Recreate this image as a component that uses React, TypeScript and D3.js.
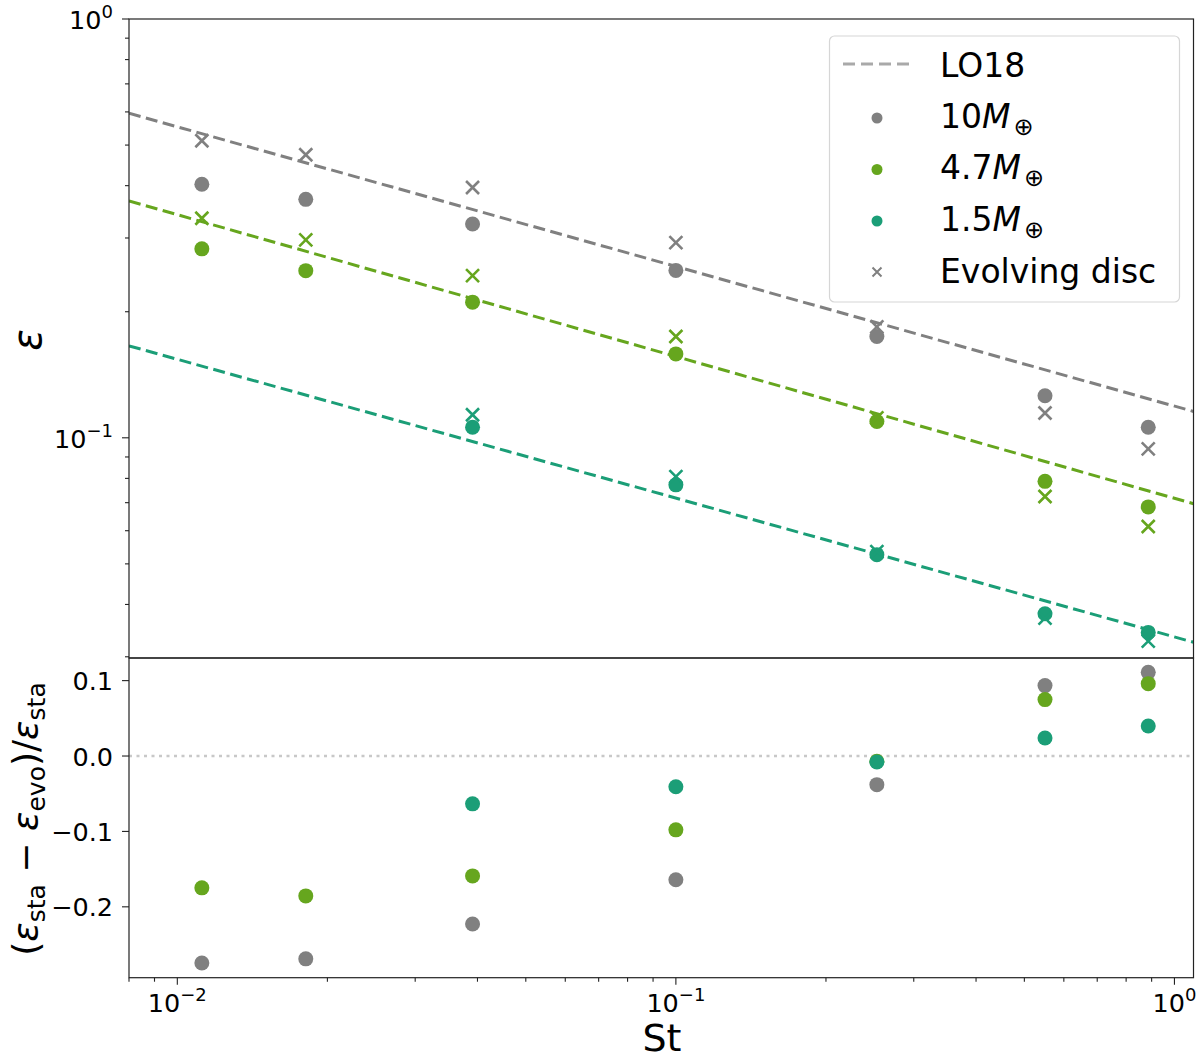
import React from 'react';
import * as d3 from 'd3';

// Stokes numbers of the runs
const stokes = [0.0112, 0.0181, 0.0391, 0.1, 0.253, 0.55, 0.886];

// epsilon for the static disc (circles) and evolving disc (crosses)
const epsStatic10 = [0.403, 0.371, 0.324, 0.251, 0.1745, 0.126, 0.106];
const epsEvolving10 = [0.512, 0.474, 0.396, 0.2925, 0.184, 0.1146, 0.0941];
const epsStatic47 = [0.2826, 0.2507, 0.2108, 0.1586, 0.1094, 0.0787, 0.0684];
const epsEvolving47 = [0.3344, 0.297, 0.244, 0.1745, 0.1116, 0.0724, 0.0614];
const epsStatic15 = [null, null, 0.106, 0.0772, 0.0526, 0.038, 0.0343];
const epsEvolving15 = [null, null, 0.1135, 0.0808, 0.0535, 0.0371, 0.0327];

// (eps_sta - eps_evo) / eps_sta
const relDiff10 = [-0.2745, -0.269, -0.2227, -0.164, -0.038, 0.0934, 0.111];
const relDiff47 = [-0.1748, -0.1855, -0.159, -0.0979, -0.007, 0.0748, 0.096];
const relDiff15 = [null, null, -0.0634, -0.0408, -0.008, 0.0239, 0.0398];

// LO18 fits, values at the two ends of the St range
const lineStokes = [0.008, 1.092];
const lo18_10 = [0.5955, 0.1156];
const lo18_47 = [0.3678, 0.0696];
const lo18_15 = [0.1658, 0.0325];

const massLabels = ['10', '4.7', '1.5'];
const yTopMajor = [0.1, 1];
const yBotTicks = [0.1, 0.0, -0.1, -0.2];
const xMajor = [0.01, 0.1, 1];

const FONT = '"DejaVu Sans", sans-serif';
const left = 129, right = 1193.5, top = 19, mid = 658, bottom = 977.7;

const series = [
  { label: massLabels[0], color: '#808080', sta: epsStatic10, evo: epsEvolving10, rel: relDiff10, lo: lo18_10 },
  { label: massLabels[1], color: '#66a61e', sta: epsStatic47, evo: epsEvolving47, rel: relDiff47, lo: lo18_47 },
  { label: massLabels[2], color: '#1b9e77', sta: epsStatic15, evo: epsEvolving15, rel: relDiff15, lo: lo18_15 },
];

const sup = (s: string) => s.replace('-', '\u2212');

function logMinor(domain: number[]) {
  const out: number[] = [];
  for (let d = -4; d <= 1; d++) {
    for (let k = 1; k <= 9; k++) {
      const v = k * Math.pow(10, d);
      if (v >= domain[0] * 0.999 && v <= domain[1] * 1.001) out.push(v);
    }
  }
  return out;
}

const cross = (h: number) => `M${-h},${-h}L${h},${h}M${-h},${h}L${h},${-h}`;

export default function App() {
  const x = d3.scaleLog().domain([0.008, 1.092]).range([left, right]);
  const yTop = d3.scaleLog().domain([0.0298, 1]).range([mid, top]);
  const yBot = d3.scaleLinear().domain([-0.294, 0.130]).range([bottom, mid]);

  const line = d3.line<number>().x((d, i) => x(lineStokes[i])).y(d => yTop(d));

  const xTicks = logMinor(x.domain());
  const yTicks = logMinor(yTop.domain());

  return (
    <svg width={1200} height={1061} style={{ position: 'absolute', left: 0, top: 0, background: '#fff' }}
      fontFamily={FONT}>
      <defs>
        <clipPath id="clipTop"><rect x={left} y={top} width={right - left} height={mid - top} /></clipPath>
        <clipPath id="clipBot"><rect x={left} y={mid} width={right - left} height={bottom - mid} /></clipPath>
      </defs>

      {/* top panel */}
      <g clipPath="url(#clipTop)">
        {series.map(s => (
          <path key={'lo' + s.label} d={line(s.lo) || ''} fill="none" stroke={s.color}
            strokeWidth={3} strokeDasharray="12,5.5" />
        ))}
        {series.map(s => s.sta.map((v, i) => v == null ? null : (
          <circle key={'c' + s.label + i} cx={x(stokes[i])} cy={yTop(v)} r={7.5} fill={s.color} />
        )))}
        {series.map(s => s.evo.map((v, i) => v == null ? null : (
          <path key={'x' + s.label + i} d={cross(6.5)} transform={`translate(${x(stokes[i])},${yTop(v)})`}
            stroke={s.color} strokeWidth={2.6} fill="none" />
        )))}
      </g>

      {/* top y axis */}
      {yTicks.map(v => {
        const major = yTopMajor.some(m => Math.abs(m - v) < 1e-9);
        return <line key={'yt' + v} x1={left - (major ? 7 : 4)} x2={left} y1={yTop(v)} y2={yTop(v)}
          stroke="#222" strokeWidth={1.1} />;
      })}
      {yTopMajor.map(v => (
        <text key={'ytl' + v} x={113} y={yTop(v) + 10} fontSize={25.5} textAnchor="end">
          10<tspan dy={-11} fontSize={18}>{sup(String(Math.round(Math.log10(v))))}</tspan>
        </text>
      ))}
      <text transform={`translate(41,340) rotate(-90)`} fontSize={40} fontStyle="italic" textAnchor="middle">ε</text>

      {/* bottom panel */}
      <line x1={left} x2={right} y1={yBot(0)} y2={yBot(0)} stroke="#c8c8c8" strokeWidth={2.6} strokeDasharray="3,4.5" />
      <g clipPath="url(#clipBot)">
        {series.map(s => s.rel.map((v, i) => v == null ? null : (
          <circle key={'r' + s.label + i} cx={x(stokes[i])} cy={yBot(v)} r={7.5} fill={s.color} />
        )))}
      </g>
      {yBotTicks.map(v => (
        <g key={'yb' + v}>
          <line x1={left - 7} x2={left} y1={yBot(v)} y2={yBot(v)} stroke="#222" strokeWidth={1.1} />
          <text x={113} y={yBot(v) + 9.5} fontSize={25.5} textAnchor="end">{sup(v.toFixed(1))}</text>
        </g>
      ))}
      <text transform={`translate(38,819) rotate(-90)`} fontSize={36} textAnchor="middle" style={{ whiteSpace: 'pre' }}>
        (<tspan fontStyle="italic">ε</tspan><tspan fontSize={25} dy={7}>sta</tspan><tspan dy={-7}>{' \u2212 '}</tspan>
        <tspan fontStyle="italic">ε</tspan><tspan fontSize={25} dy={7}>evo</tspan><tspan dy={-7}>)/</tspan>
        <tspan fontStyle="italic">ε</tspan><tspan fontSize={25} dy={7}>sta</tspan>
      </text>

      {/* bottom x axis */}
      {xTicks.map(v => {
        const major = xMajor.some(m => Math.abs(m - v) < 1e-9);
        return <line key={'xt' + v} x1={x(v)} x2={x(v)} y1={bottom} y2={bottom + (major ? 7 : 4)}
          stroke="#222" strokeWidth={1.1} />;
      })}
      {xMajor.map(v => (
        <text key={'xtl' + v} x={x(v)} y={1012} fontSize={25.5} textAnchor="middle">
          10<tspan dy={-11} fontSize={18}>{sup(String(Math.round(Math.log10(v))))}</tspan>
        </text>
      ))}
      <text x={662} y={1051} fontSize={38} textAnchor="middle">St</text>

      {/* frames */}
      <rect x={left} y={top} width={right - left} height={mid - top} fill="none" stroke="#222" strokeWidth={1.2} />
      <rect x={left} y={mid} width={right - left} height={bottom - mid} fill="none" stroke="#222" strokeWidth={1.2} />

      {/* legend */}
      <g>
        <rect x={829.5} y={36} width={350} height={266} rx={5} fill="#fff" fillOpacity={0.8}
          stroke="#d6d6d6" strokeWidth={1.2} />
        <line x1={843} x2={911} y1={64} y2={64} stroke="#a9a9a9" strokeWidth={3} strokeDasharray="12,6" />
        <text x={940} y={77} fontSize={33}>LO18</text>
        {series.map((s, i) => {
          const cy = 118 + i * 51.5;
          return (
            <g key={'lg' + s.label}>
              <circle cx={877} cy={cy} r={5.5} fill={s.color} />
              <text x={940} y={cy + 9.5} fontSize={33}>
                {s.label}<tspan fontStyle="italic">M</tspan><tspan fontSize={24} dx={3} dy={7}>⊕</tspan>
              </text>
            </g>
          );
        })}
        <path d={cross(4.5)} transform="translate(877,272)" stroke="#808080" strokeWidth={2} fill="none" />
        <text x={940} y={282.5} fontSize={33}>Evolving disc</text>
      </g>
    </svg>
  );
}
